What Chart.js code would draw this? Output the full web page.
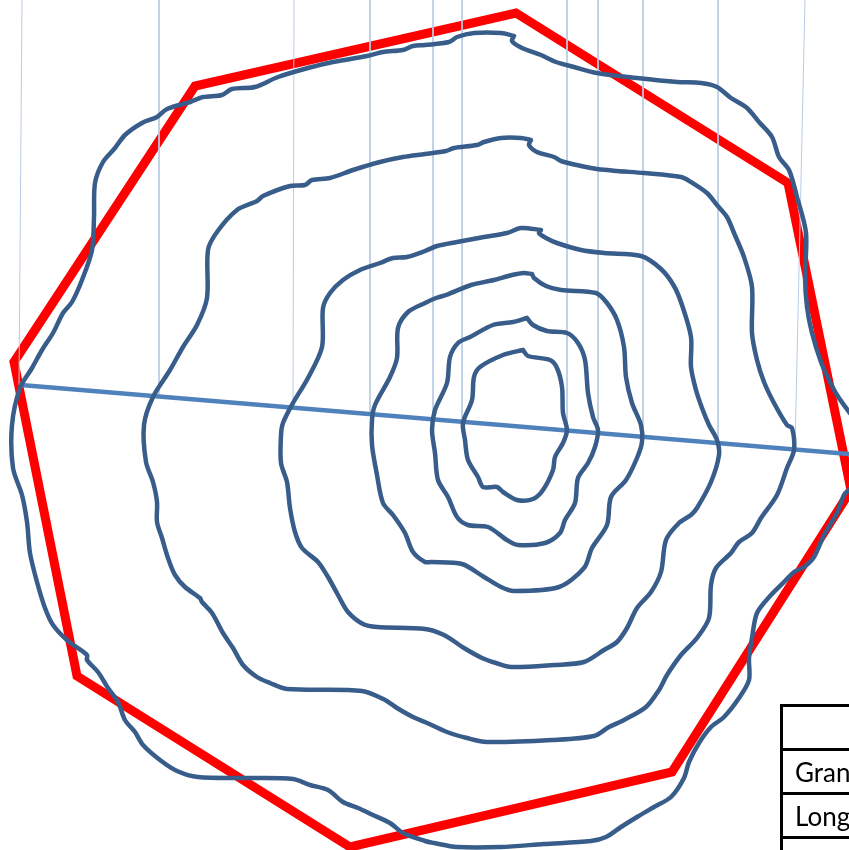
<!DOCTYPE html>
<html>
<head>
<meta charset="utf-8">
<style>
    html, body { margin: 0; padding: 0; background: #fff; overflow: hidden; }
    #wrap { position: relative; width: 849px; height: 850px; overflow: hidden; }
    canvas { position: absolute; left: 0; top: 0; }
    #legendTable {
        position: absolute; left: 780px; top: 704px; width: 300px;
        border-collapse: collapse; table-layout: fixed;
        font: 26px Lato, "Open Sans", sans-serif; color: #000;
    }
    #legendTable td {
        border: 3px solid #000; height: 41px; padding: 0 0 0 12px;
        white-space: nowrap; overflow: hidden; vertical-align: middle;
    }
</style>
</head>
<body>
<div id="wrap">
    <canvas id="myChart" width="849" height="850"></canvas>
    <table id="legendTable">
        <tr><td></td></tr>
        <tr><td>Gran</td></tr>
        <tr><td>Long</td></tr>
        <tr><td></td></tr>
    </table>
</div>

<script src="https://cdn.jsdelivr.net/npm/chart.js@4"></script>
<script>
    // everything, same units as the image (x right, y down)
    const boundary = [[851,490],[672,772],[350,847],[77,676],[14,362],[195,86],[516,13],[788,183],[851,490]]

    const section = [[21,385],[849,454]]

    // thin drop lines from the top edge to the section line
    const dropLines = [
        [[22,0],[19,385]], [[159,0],[159,396]], [[294,0],[293,408]], [[370,0],[370,414]],
        [[433,0],[433,419]], [[462,0],[462,422]], [[567,0],[567,436]], [[598,0],[598,433]],
        [[643,0],[643,437]], [[718,0],[718,443]], [[805,0],[795,449]]
    ]

    const contour1 = [[514,36],[512,41],[522,48],[541,55],[556,62],[574,67],[597,73],[637,78],[677,82],[701,83],[717,87],[731,98],[747,108],[759,122],[772,137],[779,157],[789,170],[797,197],[806,233],[805,277],[807,307],[812,333],[821,362],[829,380],[837,395],[849,412],[862,430],[862,480],[849,490],[844,495],[837,513],[824,535],[814,557],[804,567],[794,572],[784,582],[771,595],[757,613],[752,638],[749,658],[749,680],[739,698],[724,717],[711,727],[699,743],[689,762],[684,778],[671,797],[654,807],[637,817],[621,827],[606,837],[591,841],[544,844],[501,847],[457,847],[434,843],[425,841],[403,833],[390,823],[373,815],[358,808],[343,802],[328,790],[310,785],[293,779],[247,778],[198,777],[177,771],[160,760],[143,745],[135,732],[125,720],[118,702],[108,688],[98,672],[87,660],[87,655],[68,641],[53,625],[45,608],[37,582],[30,553],[27,522],[22,495],[13,468],[12,425],[20,388],[32,368],[42,350],[53,333],[63,313],[72,302],[82,280],[92,250],[94,217],[95,183],[103,162],[115,148],[125,135],[142,123],[157,117],[167,109],[190,102],[203,97],[222,95],[232,89],[255,87],[278,77],[308,68],[333,62],[367,56],[383,52],[403,50],[413,46],[425,45],[449,42],[457,37],[474,33],[501,33],[514,36]]

    const contour2 = [[531,140],[529,145],[537,152],[554,157],[561,161],[581,166],[597,169],[617,171],[644,173],[681,177],[691,182],[707,193],[717,205],[727,217],[734,233],[744,257],[752,287],[752,333],[757,360],[764,382],[774,403],[787,425],[792,428],[794,450],[787,468],[777,495],[761,518],[752,533],[739,542],[731,553],[716,568],[711,585],[709,618],[697,638],[681,655],[667,675],[659,690],[646,707],[624,720],[609,727],[594,736],[552,740],[487,742],[467,738],[447,732],[425,722],[413,717],[397,708],[385,700],[362,691],[287,689],[270,683],[257,677],[243,665],[233,648],[223,633],[212,613],[202,602],[200,598],[185,587],[175,575],[168,558],[162,538],[157,522],[157,502],[153,482],[146,462],[144,425],[153,397],[170,370],[183,347],[197,325],[207,298],[208,250],[217,232],[237,210],[257,201],[263,196],[290,186],[305,185],[312,180],[330,178],[353,170],[380,162],[403,157],[425,154],[446,151],[454,148],[477,145],[484,142],[501,138],[521,138],[531,140]]

    const contour3 = [[541,230],[539,233],[546,238],[557,243],[581,250],[604,253],[641,256],[661,269],[674,286],[682,305],[691,337],[691,367],[696,390],[702,408],[709,425],[717,440],[719,455],[711,482],[697,508],[691,515],[679,523],[666,540],[661,572],[651,592],[637,608],[627,628],[617,642],[604,650],[584,662],[554,665],[511,667],[496,663],[482,658],[464,648],[444,635],[425,629],[377,627],[363,624],[348,612],[338,595],[328,577],[318,562],[302,548],[295,532],[290,508],[287,482],[281,463],[281,435],[283,423],[293,403],[308,378],[322,347],[323,308],[330,293],[343,280],[360,270],[380,263],[393,258],[407,257],[425,251],[437,246],[457,242],[484,237],[507,233],[521,228],[541,230]]

    const contour4 = [[532,274],[534,278],[546,286],[561,290],[596,293],[607,303],[617,320],[624,347],[626,377],[632,403],[641,425],[642,442],[637,458],[626,480],[611,497],[607,525],[592,548],[584,568],[559,587],[514,591],[501,587],[484,577],[462,564],[431,562],[425,562],[413,552],[405,533],[393,515],[383,503],[377,475],[372,445],[372,420],[375,405],[390,377],[397,358],[398,328],[408,312],[425,303],[436,298],[446,295],[471,285],[494,280],[512,275],[524,273],[532,274]]

    const contour5 = [[527,318],[533,325],[547,331],[567,333],[578,343],[585,360],[588,393],[593,417],[598,430],[595,447],[588,463],[578,478],[575,503],[565,520],[560,533],[545,543],[518,545],[507,540],[488,527],[468,525],[457,517],[448,497],[438,480],[435,453],[432,430],[435,410],[447,383],[450,357],[458,343],[470,337],[493,325],[513,322],[527,318]]

    const contour6 = [[523,350],[528,356],[550,360],[557,368],[562,387],[563,413],[567,430],[563,443],[555,457],[553,470],[543,490],[533,499],[517,500],[503,492],[497,487],[483,487],[478,477],[468,460],[465,440],[463,423],[472,400],[474,377],[480,367],[503,355],[523,350]]

    const contours = [contour1, contour2, contour3, contour4, contour5, contour6]

    function toPoints(pairs) {
        return pairs.map(p => ({x: p[0], y: p[1]}))
    }

    const datasets = []

    // bigger order number = drawn first
    datasets.push({
        label: 'Boundary', data: toPoints(boundary), showLine: true, pointRadius: 0,
        borderColor: '#ff0000', borderWidth: 9, borderJoinStyle: 'miter', order: 4
    })
    dropLines.forEach((line, i) => {
        datasets.push({
            label: 'Drop ' + (i + 1), data: toPoints(line), showLine: true, pointRadius: 0,
            borderColor: '#b8cce4', borderWidth: 1, order: 3
        })
    })
    datasets.push({
        label: 'Section', data: toPoints(section), showLine: true, pointRadius: 0,
        borderColor: '#4f81bd', borderWidth: 4.5, order: 2
    })
    contours.forEach((c, i) => {
        datasets.push({
            label: 'Contour ' + (i + 1), data: toPoints(c), showLine: true, pointRadius: 0,
            borderColor: '#385d8a', borderWidth: 4.5, borderJoinStyle: 'round', borderCapStyle: 'round',
            tension: 0.3, order: 1
        })
    })

    var ctx = document.getElementById('myChart').getContext('2d')
    var chart = new Chart(ctx, {
        type: 'scatter',
        data: {datasets: datasets},
        options: {
            responsive: false,
            maintainAspectRatio: false,
            animation: false,
            layout: {padding: 0},
            plugins: {legend: {display: false}, tooltip: {enabled: false}},
            scales: {
                x: {type: 'linear', min: 0, max: 849, display: false},
                y: {type: 'linear', min: 0, max: 850, reverse: true, display: false}
            }
        }
    })
</script>
</body>
</html>
